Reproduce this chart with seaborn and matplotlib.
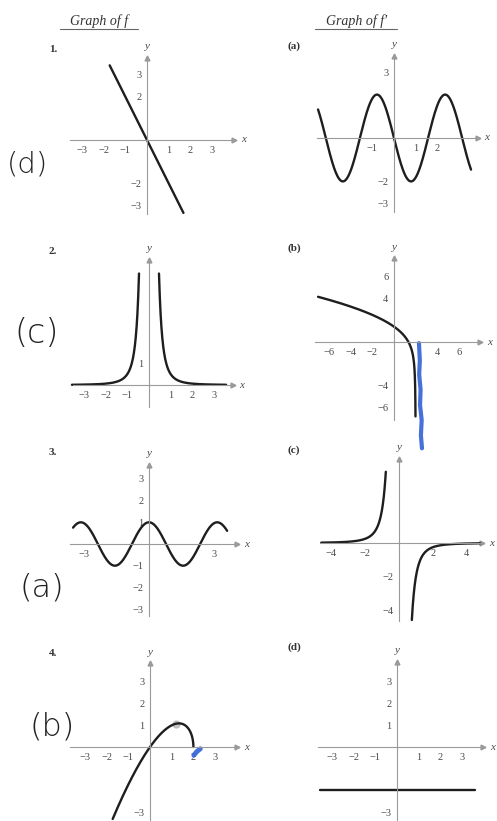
import numpy as np
import pandas as pd
import matplotlib
matplotlib.use("Agg")
import matplotlib.pyplot as plt
import seaborn as sns

sns.set_theme(style="white")
plt.rcParams["font.family"] = ["Liberation Serif", "DejaVu Serif"]

W, H = 497, 821
fig = plt.figure(figsize=(W / 100, H / 100), dpi=100)
fig.patch.set_facecolor("white")

AXIS = "#9a9a9a"
INK = "#1e1e1e"
TXT = "#4a4a4a"
PEN = "#2f62d6"
M = "\u2212"

# ---- function parameters for each graph ----
slope_1 = -2.0                      # 1.  f(x) = -2x
x_range_1 = (-1.72, 1.68)
amp_a, freq_a = -2.0, 2.0           # (a) f'(x) = -2 sin 2x
x_range_a = (-3.5, 3.55)
coef_2, power_2 = 0.5, 3            # 2.  steep even curve around x = 0
x_inner_2, x_outer_2 = 0.46, 3.55
x_range_b = (-7.0, 1.98)            # (b) f'(x) = (4 - 3x) / (2 sqrt(2 - x))
x_range_3 = (-3.5, 3.6)             # 3.  f(x) = cos 2x
c_left, c_right = (-4.6, -0.78), (0.76, 4.8)  # (c) f'(x) = -2 / x^3
x_range_4 = (-1.72, 2.0)            # 4.  f(x) = x sqrt(2 - x)
const_d = -2.0                      # (d) f'(x) = -2
x_range_d = (-3.55, 3.6)

# ---- tick labels ----
ticks_3 = [-3, -2, -1, 1, 2, 3]
xlab_1 = [M + "3", M + "2", M + "1", "1", "2", "3"]
ylab_1 = [M + "3", M + "2", "", "", "2", "3"]
xlab_a = ["", "", M + "1", "1", "2", ""]
ylab_a = [M + "3", M + "2", "", "", "", "3"]
xlab_2 = [M + "3", M + "2", M + "1", "1", "2", "3"]
yticks_2 = [1, 2, 3, 4, 5]
ylab_2 = ["1", "", "", "", ""]
ticks_b = [-6, -4, -2, 2, 4, 6]
xlab_b = [M + "6", M + "4", M + "2", "", "4", "6"]
ylab_b = [M + "6", M + "4", "", "", "4", "6"]
xlab_3 = [M + "3", "", "", "", "", "3"]
ylab_3 = [M + "3", M + "2", M + "1", "1", "2", "3"]
ticks_c = [-4, -3, -2, -1, 1, 2, 3, 4]
xlab_c = [M + "4", "", M + "2", "", "", "2", "", "4"]
ylab_c = [M + "4", "", M + "2", "", "", "", "", ""]
xlab_4 = [M + "3", M + "2", M + "1", "1", "2", "3"]
ylab_4 = [M + "3", "", "", "1", "2", "3"]
xlab_d = [M + "3", M + "2", M + "1", "1", "2", "3"]
ylab_d = [M + "3", "", "", "1", "2", "3"]

# hand-drawn pen marks (data units of their graphs)
pen_b_x = [2.30, 2.38, 2.32, 2.45, 2.40, 2.55, 2.48, 2.58]
pen_b_y = [-0.1, -1.7, -3.0, -4.4, -5.8, -7.2, -8.6, -9.8]
pen_4_x = [2.02, 2.15, 2.32]
pen_4_y = [-0.38, -0.22, -0.08]


def panel(ox, oy, sx, sy, xlim, ylim, xticks, xlabels, yticks, ylabels):
    left = ox + xlim[0] * sx
    right = ox + xlim[1] * sx
    top = oy - ylim[1] * sy
    bottom = oy - ylim[0] * sy
    ax = fig.add_axes([left / W, 1 - bottom / H, (right - left) / W, (bottom - top) / H])
    ax.set_xlim(xlim)
    ax.set_ylim(ylim)
    ax.patch.set_alpha(0)
    for s in ("top", "right"):
        ax.spines[s].set_visible(False)
    for s in ("left", "bottom"):
        ax.spines[s].set_position("zero")
        ax.spines[s].set_color(AXIS)
        ax.spines[s].set_linewidth(0.8)
    ax.set_xticks(xticks, xlabels)
    ax.set_yticks(yticks, ylabels)
    ax.tick_params(direction="inout", length=5, width=0.7, color=AXIS,
                   labelsize=7.5, labelcolor=TXT, pad=1.5)
    ax.plot(1, 0, ">", color=AXIS, ms=3.5, transform=ax.get_yaxis_transform(), clip_on=False)
    ax.plot(0, 1, "^", color=AXIS, ms=3.5, transform=ax.get_xaxis_transform(), clip_on=False)
    ax.annotate("x", xy=(1, 0), xycoords=ax.get_yaxis_transform(), xytext=(5, 0),
                textcoords="offset points", ha="left", va="center",
                fontsize=8, style="italic", color=TXT)
    ax.annotate("y", xy=(0, 1), xycoords=ax.get_xaxis_transform(), xytext=(0, 5),
                textcoords="offset points", ha="center", va="bottom",
                fontsize=8, style="italic", color=TXT)
    ax.set_xlabel("")
    ax.set_ylabel("")
    return ax


def curve(ax, x, y, **kw):
    df = pd.DataFrame({"x": x, "y": y})
    sns.lineplot(data=df, x="x", y="y", ax=ax, color=INK, lw=1.7, sort=False,
                 estimator=None, clip_on=False, **kw)
    ax.set_xlabel("")
    ax.set_ylabel("")


U = 21.7  # pixels per unit

# 1.
ax1 = panel(147, 140, U, U, (-3.55, 4.0), (-3.4, 3.8), ticks_3, xlab_1, ticks_3, ylab_1)
x = np.linspace(*x_range_1, 50)
curve(ax1, x, slope_1 * x)

# (a)
axa = panel(394, 138, U, U, (-3.55, 3.85), (-3.4, 3.8), ticks_3, xlab_a, ticks_3, ylab_a)
x = np.linspace(*x_range_a, 400)
curve(axa, x, amp_a * np.sin(freq_a * x))

# 2.
ax2 = panel(149, 385, U, U, (-3.5, 3.85), (-1.0, 5.75), ticks_3, xlab_2, yticks_2, ylab_2)
xr = np.geomspace(x_inner_2, x_outer_2, 300)
curve(ax2, xr, coef_2 / xr ** power_2)
curve(ax2, -xr, coef_2 / xr ** power_2)

# (b)
sb = U / 2
axb = panel(394, 342, sb, sb, (-7.3, 7.9), (-7.2, 7.7), ticks_b, xlab_b, ticks_b, ylab_b)
x = np.concatenate([np.linspace(x_range_b[0], 1.8, 300), np.linspace(1.8, x_range_b[1], 200)])
curve(axb, x, (4 - 3 * x) / (2 * np.sqrt(2 - x)))
axb.plot(pen_b_x, pen_b_y, color=PEN, lw=3.0, solid_capstyle="round", clip_on=False, alpha=0.9)

# 3.
ax3 = panel(149, 544, U, U, (-3.64, 4.05), (-3.3, 3.65), ticks_3, xlab_3, ticks_3, ylab_3)
x = np.linspace(*x_range_3, 400)
curve(ax3, x, np.cos(2 * x))

# (c)
sc = 16.9
axc = panel(399, 543, sc, sc, (-4.67, 4.9), (-4.6, 4.95), ticks_c, xlab_c, ticks_c, ylab_c)
xl = -np.geomspace(-c_left[0], -c_left[1], 300)
curve(axc, xl, -2 / xl ** 3)
xr = np.geomspace(c_right[0], c_right[1], 300)
curve(axc, xr, -2 / xr ** 3)

# 4.
ax4 = panel(150, 747, U, U, (-3.7, 4.0), (-3.45, 3.85), ticks_3, xlab_4, ticks_3, ylab_4)
x = np.concatenate([np.linspace(x_range_4[0], 1.9, 300), np.linspace(1.9, x_range_4[1], 200)])
curve(ax4, x, x * np.sqrt(np.clip(2 - x, 0, None)))
ax4.plot([1.2], [1.08], "o", color="#b0b0b0", ms=5, alpha=0.7, zorder=1)
ax4.plot(pen_4_x, pen_4_y, color=PEN, lw=3.5, solid_capstyle="round", clip_on=False, alpha=0.9)

# (d)
axd = panel(397, 747, U, U, (-3.64, 3.95), (-3.45, 3.9), ticks_3, xlab_d, ticks_3, ylab_d)
x = np.linspace(*x_range_d, 20)
curve(axd, x, np.full_like(x, const_d))

# serif tick labels
for ax in fig.axes:
    for lab in ax.get_xticklabels() + ax.get_yticklabels():
        lab.set_fontfamily(["Liberation Serif", "DejaVu Serif"])

# headings
def ftext(px, py, s, **kw):
    fig.text(px / W, 1 - py / H, s, **kw)

ftext(99, 21, "Graph of f", ha="center", va="center", fontsize=10, style="italic", color="#333")
ftext(357, 21, "Graph of f\u2032", ha="center", va="center", fontsize=10, style="italic", color="#333")
for x0, x1 in ((60, 138), (315, 397)):
    fig.add_artist(plt.Line2D([x0 / W, x1 / W], [1 - 29 / H, 1 - 29 / H], color="#666", lw=0.8))

for py, s in ((49, "1."), (251, "2."), (452, "3."), (653, "4.")):
    ftext(53, py, s, ha="center", va="center", fontsize=8, fontweight="bold", color="#333")
for py, s in ((46, "(a)"), (248, "(b)"), (450, "(c)"), (647, "(d)")):
    ftext(294, py, s, ha="center", va="center", fontsize=8, fontweight="bold", color="#333")

# handwritten answers
for px, py, s, fs in ((28, 164, "(d)", 21), (37, 333, "(c)", 24), (42, 587, "(a)", 23), (52, 726, "(b)", 23)):
    ftext(px, py, s, ha="center", va="center", fontsize=fs, color="#222",
          fontfamily=["DejaVu Sans"], fontweight="light")

fig.savefig("out.png", dpi=100, facecolor="white")
